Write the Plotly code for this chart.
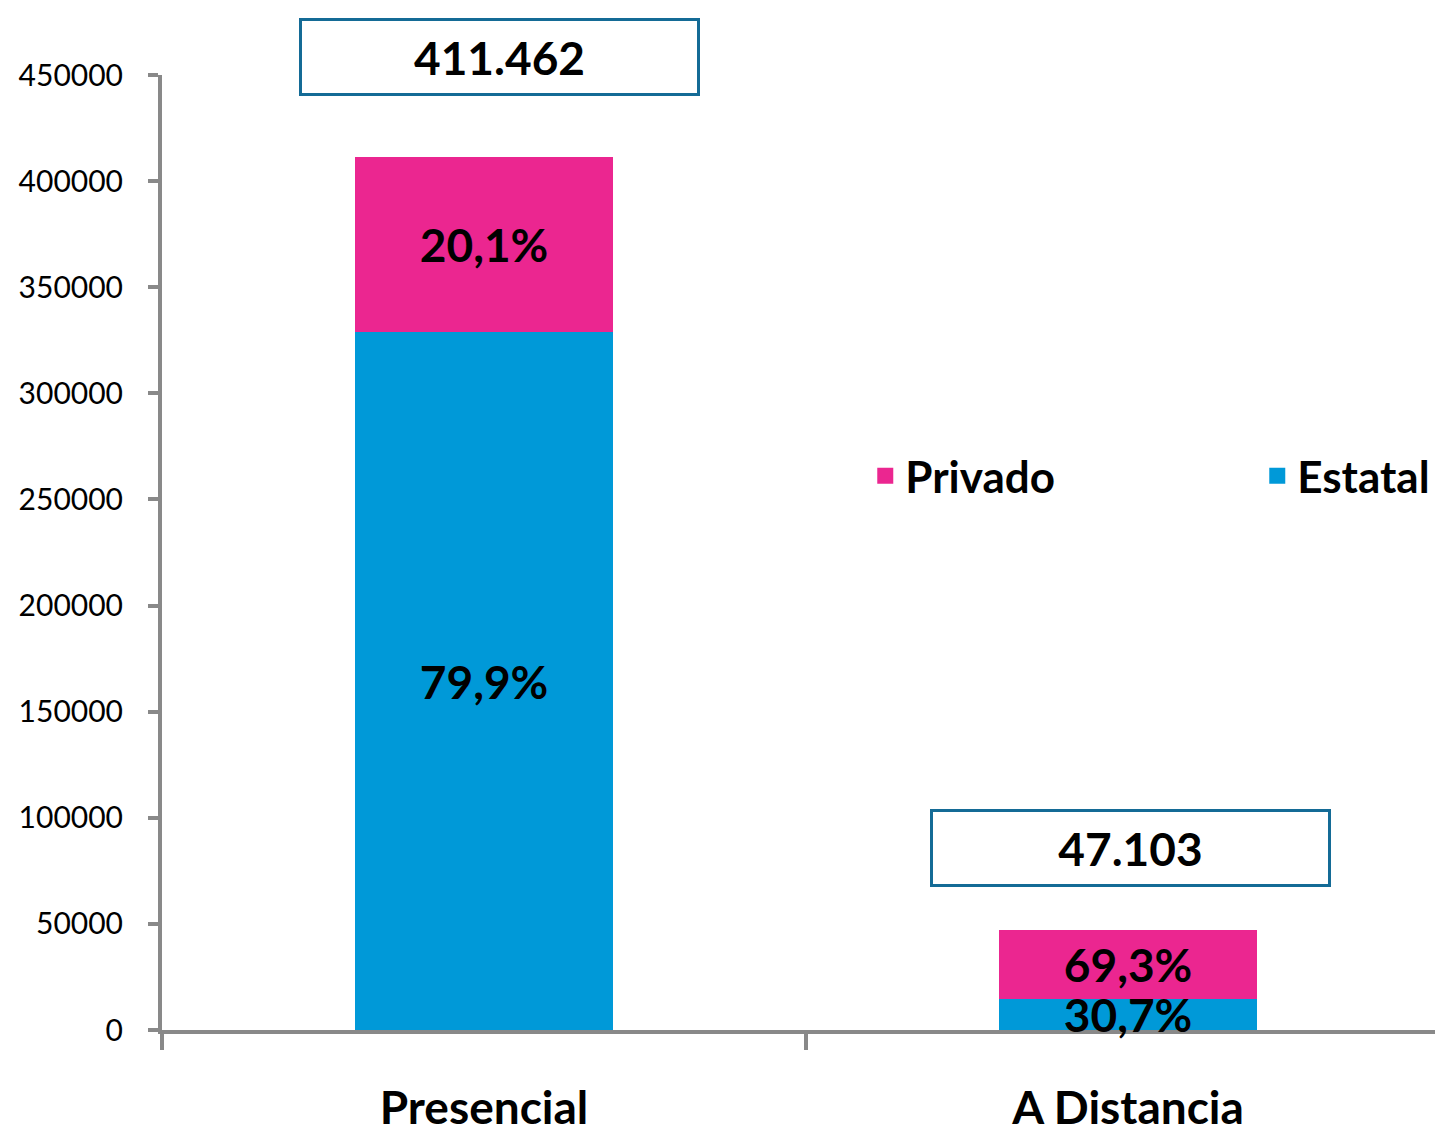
import plotly.graph_objects as go

categories = ["Presencial", "A Distancia"]
totals = [411462, 47103]
estatal_pct = [79.9, 30.7]
privado_pct = [20.1, 69.3]
total_labels = ["411.462", "47.103"]

estatal = [t * p / 100 for t, p in zip(totals, estatal_pct)]
privado = [t * p / 100 for t, p in zip(totals, privado_pct)]

COLOR_ESTATAL = "#0099D8"
COLOR_PRIVADO = "#EB2690"
AXIS_GREY = "#898989"
FONT = "Lato, 'Open Sans', sans-serif"
BIG = 46

fig = go.Figure()

fig.add_trace(go.Bar(
    x=categories, y=estatal, name="Estatal",
    marker=dict(color=COLOR_ESTATAL, line=dict(width=0)),
    text=[f"{p:.1f}%".replace(".", ",") for p in estatal_pct],
    textposition="inside", insidetextanchor="middle", constraintext="none",
    textfont=dict(family=FONT, size=BIG, color="black", weight="bold"),
    cliponaxis=False, showlegend=False,
))
fig.add_trace(go.Bar(
    x=categories, y=privado, name="Privado",
    marker=dict(color=COLOR_PRIVADO, line=dict(width=0)),
    text=[f"{p:.1f}%".replace(".", ",") for p in privado_pct],
    textposition="inside", insidetextanchor="middle", constraintext="none",
    textfont=dict(family=FONT, size=BIG, color="black", weight="bold"),
    cliponaxis=False, showlegend=False,
))

# legend entries (bigger squares than the default bar swatch)
for name, color in [("Privado", COLOR_PRIVADO), ("Estatal", COLOR_ESTATAL)]:
    fig.add_trace(go.Scatter(
        x=[None], y=[None], mode="markers", name=name,
        marker=dict(symbol="square", size=22, color=color),
    ))

# boxed totals
shifts = [(15, 100), (2, 82)]
for cat, tot, lab, (dx, dy) in zip(categories, totals, total_labels, shifts):
    fig.add_annotation(
        x=cat, y=tot, xref="x", yref="y", text=f"<b>{lab}</b>",
        showarrow=False, xshift=dx, yshift=dy,
        width=393, height=70, borderwidth=3, bordercolor="#146B96",
        bgcolor="white", font=dict(family=FONT, size=BIG, color="black"),
    )

# page body adds an 8px offset, so the figure is 8px smaller than the window
fig.update_layout(
    width=1435, height=1120,
    paper_bgcolor="white", plot_bgcolor="white",
    barmode="stack", bargap=0.6,
    margin=dict(l=154, r=0, t=67, b=98, autoexpand=False),
    font=dict(family=FONT, color="black"),
    legend=dict(
        orientation="h", traceorder="normal",
        x=0.549, y=0.58, xanchor="left", yanchor="middle",
        itemsizing="trace", entrywidth=347, entrywidthmode="pixels",
        font=dict(family=FONT, size=44, color="black", weight="bold"),
        bgcolor="rgba(0,0,0,0)",
    ),
)

fig.update_xaxes(
    range=[-0.5, 1.489], automargin=False, layer="below traces",
    showline=True, linecolor=AXIS_GREY, linewidth=4,
    ticks="outside", tickson="boundaries", ticklen=16, tickwidth=4, tickcolor=AXIS_GREY,
    tickfont=dict(family=FONT, size=BIG, color="black", weight="bold"),
    ticklabelstandoff=35, showgrid=False, zeroline=False,
)
fig.update_yaxes(
    range=[0, 450000], dtick=50000, tickformat="d", automargin=False,
    showline=True, linecolor=AXIS_GREY, linewidth=4,
    ticks="outside", ticklen=10, tickwidth=4, tickcolor=AXIS_GREY,
    tickfont=dict(family=FONT, size=30, color="black"),
    ticklabelstandoff=19, showgrid=False, zeroline=False,
)

fig.write_html("out.html")
